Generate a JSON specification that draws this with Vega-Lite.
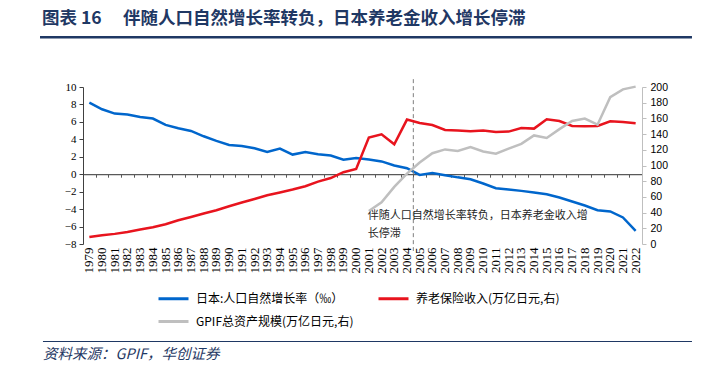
{
  "$schema": "https://vega.github.io/schema/vega-lite/v6.json",
  "width": 559,
  "height": 157,
  "autosize": {"type": "none"},
  "padding": {"left": 83, "top": 87, "right": 68, "bottom": 124},
  "background": "white",
  "config": {"view": {"stroke": null}, "font": "Noto Sans CJK SC"},
  "datasets": {
    "main": [
      {"year": "1979", "series": "日本:人口自然增长率（‰）", "value": 8.2},
      {"year": "1980", "series": "日本:人口自然增长率（‰）", "value": 7.45},
      {"year": "1981", "series": "日本:人口自然增长率（‰）", "value": 6.95},
      {"year": "1982", "series": "日本:人口自然增长率（‰）", "value": 6.84},
      {"year": "1983", "series": "日本:人口自然增长率（‰）", "value": 6.57},
      {"year": "1984", "series": "日本:人口自然增长率（‰）", "value": 6.38},
      {"year": "1985", "series": "日本:人口自然增长率（‰）", "value": 5.65},
      {"year": "1986", "series": "日本:人口自然增长率（‰）", "value": 5.27},
      {"year": "1987", "series": "日本:人口自然增长率（‰）", "value": 4.96},
      {"year": "1988", "series": "日本:人口自然增长率（‰）", "value": 4.35},
      {"year": "1989", "series": "日本:人口自然增长率（‰）", "value": 3.82},
      {"year": "1990", "series": "日本:人口自然增长率（‰）", "value": 3.36},
      {"year": "1991", "series": "日本:人口自然增长率（‰）", "value": 3.24},
      {"year": "1992", "series": "日本:人口自然增长率（‰）", "value": 2.98},
      {"year": "1993", "series": "日本:人口自然增长率（‰）", "value": 2.56},
      {"year": "1994", "series": "日本:人口自然增长率（‰）", "value": 2.94},
      {"year": "1995", "series": "日本:人口自然增长率（‰）", "value": 2.25},
      {"year": "1996", "series": "日本:人口自然增长率（‰）", "value": 2.54},
      {"year": "1997", "series": "日本:人口自然增长率（‰）", "value": 2.29},
      {"year": "1998", "series": "日本:人口自然增长率（‰）", "value": 2.14},
      {"year": "1999", "series": "日本:人口自然增长率（‰）", "value": 1.66},
      {"year": "2000", "series": "日本:人口自然增长率（‰）", "value": 1.87},
      {"year": "2001", "series": "日本:人口自然增长率（‰）", "value": 1.68},
      {"year": "2002", "series": "日本:人口自然增长率（‰）", "value": 1.47},
      {"year": "2003", "series": "日本:人口自然增长率（‰）", "value": 1.0},
      {"year": "2004", "series": "日本:人口自然增长率（‰）", "value": 0.69},
      {"year": "2005", "series": "日本:人口自然增长率（‰）", "value": -0.08},
      {"year": "2006", "series": "日本:人口自然增长率（‰）", "value": 0.15},
      {"year": "2007", "series": "日本:人口自然增长率（‰）", "value": -0.11},
      {"year": "2008", "series": "日本:人口自然增长率（‰）", "value": -0.36},
      {"year": "2009", "series": "日本:人口自然增长率（‰）", "value": -0.57},
      {"year": "2010", "series": "日本:人口自然增长率（‰）", "value": -1.07},
      {"year": "2011", "series": "日本:人口自然增长率（‰）", "value": -1.6},
      {"year": "2012", "series": "日本:人口自然增长率（‰）", "value": -1.75},
      {"year": "2013", "series": "日本:人口自然增长率（‰）", "value": -1.91},
      {"year": "2014", "series": "日本:人口自然增长率（‰）", "value": -2.1},
      {"year": "2015", "series": "日本:人口自然增长率（‰）", "value": -2.29},
      {"year": "2016", "series": "日本:人口自然增长率（‰）", "value": -2.67},
      {"year": "2017", "series": "日本:人口自然增长率（‰）", "value": -3.13},
      {"year": "2018", "series": "日本:人口自然增长率（‰）", "value": -3.59},
      {"year": "2019", "series": "日本:人口自然增长率（‰）", "value": -4.12},
      {"year": "2020", "series": "日本:人口自然增长率（‰）", "value": -4.27},
      {"year": "2021", "series": "日本:人口自然增长率（‰）", "value": -4.96},
      {"year": "2022", "series": "日本:人口自然增长率（‰）", "value": -6.49},
      {"year": "1979", "series": "养老保险收入(万亿日元,右)", "value": 9.0},
      {"year": "1980", "series": "养老保险收入(万亿日元,右)", "value": 11.2},
      {"year": "1981", "series": "养老保险收入(万亿日元,右)", "value": 12.9},
      {"year": "1982", "series": "养老保险收入(万亿日元,右)", "value": 15.4},
      {"year": "1983", "series": "养老保险收入(万亿日元,右)", "value": 18.4},
      {"year": "1984", "series": "养老保险收入(万亿日元,右)", "value": 21.4},
      {"year": "1985", "series": "养老保险收入(万亿日元,右)", "value": 25.2},
      {"year": "1986", "series": "养老保险收入(万亿日元,右)", "value": 30.3},
      {"year": "1987", "series": "养老保险收入(万亿日元,右)", "value": 34.5},
      {"year": "1988", "series": "养老保险收入(万亿日元,右)", "value": 38.8},
      {"year": "1989", "series": "养老保险收入(万亿日元,右)", "value": 43.0},
      {"year": "1990", "series": "养老保险收入(万亿日元,右)", "value": 48.1},
      {"year": "1991", "series": "养老保险收入(万亿日元,右)", "value": 52.8},
      {"year": "1992", "series": "养老保险收入(万亿日元,右)", "value": 57.4},
      {"year": "1993", "series": "养老保险收入(万亿日元,右)", "value": 62.1},
      {"year": "1994", "series": "养老保险收入(万亿日元,右)", "value": 65.6},
      {"year": "1995", "series": "养老保险收入(万亿日元,右)", "value": 69.4},
      {"year": "1996", "series": "养老保险收入(万亿日元,右)", "value": 73.6},
      {"year": "1997", "series": "养老保险收入(万亿日元,右)", "value": 79.5},
      {"year": "1998", "series": "养老保险收入(万亿日元,右)", "value": 84.0},
      {"year": "1999", "series": "养老保险收入(万亿日元,右)", "value": 91.5},
      {"year": "2000", "series": "养老保险收入(万亿日元,右)", "value": 95.5},
      {"year": "2001", "series": "养老保险收入(万亿日元,右)", "value": 135.6},
      {"year": "2002", "series": "养老保险收入(万亿日元,右)", "value": 139.8},
      {"year": "2003", "series": "养老保险收入(万亿日元,右)", "value": 127.0},
      {"year": "2004", "series": "养老保险收入(万亿日元,右)", "value": 158.5},
      {"year": "2005", "series": "养老保险收入(万亿日元,右)", "value": 154.2},
      {"year": "2006", "series": "养老保险收入(万亿日元,右)", "value": 151.6},
      {"year": "2007", "series": "养老保险收入(万亿日元,右)", "value": 145.3},
      {"year": "2008", "series": "养老保险收入(万亿日元,右)", "value": 144.5},
      {"year": "2009", "series": "养老保险收入(万亿日元,右)", "value": 143.6},
      {"year": "2010", "series": "养老保险收入(万亿日元,右)", "value": 144.5},
      {"year": "2011", "series": "养老保险收入(万亿日元,右)", "value": 142.7},
      {"year": "2012", "series": "养老保险收入(万亿日元,右)", "value": 143.2},
      {"year": "2013", "series": "养老保险收入(万亿日元,右)", "value": 147.8},
      {"year": "2014", "series": "养老保险收入(万亿日元,右)", "value": 147.0},
      {"year": "2015", "series": "养老保险收入(万亿日元,右)", "value": 158.9},
      {"year": "2016", "series": "养老保险收入(万亿日元,右)", "value": 156.7},
      {"year": "2017", "series": "养老保险收入(万亿日元,右)", "value": 150.4},
      {"year": "2018", "series": "养老保险收入(万亿日元,右)", "value": 150.0},
      {"year": "2019", "series": "养老保险收入(万亿日元,右)", "value": 150.4},
      {"year": "2020", "series": "养老保险收入(万亿日元,右)", "value": 156.3},
      {"year": "2021", "series": "养老保险收入(万亿日元,右)", "value": 155.4},
      {"year": "2022", "series": "养老保险收入(万亿日元,右)", "value": 153.8},
      {"year": "2001", "series": "GPIF总资产规模(万亿日元,右)", "value": 42.0},
      {"year": "2002", "series": "GPIF总资产规模(万亿日元,右)", "value": 53.0},
      {"year": "2003", "series": "GPIF总资产规模(万亿日元,右)", "value": 72.7},
      {"year": "2004", "series": "GPIF总资产规模(万亿日元,右)", "value": 89.7},
      {"year": "2005", "series": "GPIF总资产规模(万亿日元,右)", "value": 103.8},
      {"year": "2006", "series": "GPIF总资产规模(万亿日元,右)", "value": 115.6},
      {"year": "2007", "series": "GPIF总资产规模(万亿日元,右)", "value": 120.5},
      {"year": "2008", "series": "GPIF总资产规模(万亿日元,右)", "value": 118.5},
      {"year": "2009", "series": "GPIF总资产规模(万亿日元,右)", "value": 123.4},
      {"year": "2010", "series": "GPIF总资产规模(万亿日元,右)", "value": 117.8},
      {"year": "2011", "series": "GPIF总资产规模(万亿日元,右)", "value": 115.0},
      {"year": "2012", "series": "GPIF总资产规模(万亿日元,右)", "value": 121.5},
      {"year": "2013", "series": "GPIF总资产规模(万亿日元,右)", "value": 127.5},
      {"year": "2014", "series": "GPIF总资产规模(万亿日元,右)", "value": 138.3},
      {"year": "2015", "series": "GPIF总资产规模(万亿日元,右)", "value": 135.0},
      {"year": "2016", "series": "GPIF总资产规模(万亿日元,右)", "value": 146.3},
      {"year": "2017", "series": "GPIF总资产规模(万亿日元,右)", "value": 156.7},
      {"year": "2018", "series": "GPIF总资产规模(万亿日元,右)", "value": 159.8},
      {"year": "2019", "series": "GPIF总资产规模(万亿日元,右)", "value": 152.0},
      {"year": "2020", "series": "GPIF总资产规模(万亿日元,右)", "value": 187.0},
      {"year": "2021", "series": "GPIF总资产规模(万亿日元,右)", "value": 197.0},
      {"year": "2022", "series": "GPIF总资产规模(万亿日元,右)", "value": 200.5}
    ]
  },
  "layer": [
    {
      "layer": [
        {
          "layer": [
            {
              "data": {"name": "main"},
              "transform": [{"filter": "datum.series === '日本:人口自然增长率（‰）'"}],
              "mark": {"type": "line", "strokeWidth": 2.5, "clip": false},
              "encoding": {
                "x": {
                  "field": "year", "type": "ordinal",
                  "scale": {"type": "band", "paddingInner": 0, "paddingOuter": 0},
                  "axis": {"orient": "bottom", "title": null, "domain": false, "ticks": false, "labelAngle": 270, "labelFont": "Liberation Serif", "labelFontSize": 13, "labelColor": "#000000", "labelPadding": 3, "labelOverlap": false}
                },
                "y": {
                  "field": "value", "type": "quantitative",
                  "scale": {"domain": [-8, 10], "nice": false, "zero": false},
                  "axis": {"orient": "left", "title": null, "grid": false, "values": [-8, -6, -4, -2, 0, 2, 4, 6, 8, 10], "labelOverlap": false, "domainColor": "#404040", "tickColor": "#404040", "tickSize": 4, "labelFont": "Liberation Serif", "labelFontSize": 11, "labelColor": "#000000", "labelPadding": 3}
                },
                "color": {
                  "field": "series", "type": "nominal",
                  "scale": {"domain": ["日本:人口自然增长率（‰）", "养老保险收入(万亿日元,右)", "GPIF总资产规模(万亿日元,右)"], "range": ["#0066CC", "#E8141E", "#BFBFBF"]},
                  "legend": {"title": null, "orient": "none", "direction": "horizontal", "legendX": 74, "legendY": 195, "columns": 2, "symbolType": "stroke", "symbolSize": 900, "symbolStrokeWidth": 3, "labelFont": "Noto Sans CJK SC", "labelFontSize": 12, "labelColor": "#000000", "columnPadding": 18, "rowPadding": -3, "labelOffset": 6, "padding": 0}
                }
              }
            },
            {
              "data": {"values": [{"mark": "2005"}]},
              "mark": {"type": "rule", "strokeDash": [4, 3], "color": "#7F7F7F", "strokeWidth": 1, "clip": false},
              "encoding": {
                "x": {"field": "mark", "type": "ordinal", "bandPosition": 0,
                  "axis": {"orient": "bottom", "title": null, "domain": false, "ticks": false, "labelAngle": 270, "labelFont": "Liberation Serif", "labelFontSize": 13, "labelColor": "#000000", "labelPadding": 3, "labelOverlap": false}},
                "y": {"datum": 10.9, "type": "quantitative",
                  "axis": {"orient": "left", "title": null, "grid": false, "values": [-8, -6, -4, -2, 0, 2, 4, 6, 8, 10], "labelOverlap": false, "domainColor": "#404040", "tickColor": "#404040", "tickSize": 4, "labelFont": "Liberation Serif", "labelFontSize": 11, "labelColor": "#000000", "labelPadding": 3}},
                "y2": {"datum": -8.8}
              }
            },
            {
              "data": {"values": [{"at": "2001", "note": ["伴随人口自然增长率转负，日本养老金收入增", "长停滞"]}]},
              "mark": {"type": "text", "align": "left", "baseline": "top", "dx": -1, "font": "Noto Sans CJK SC", "fontSize": 11, "lineHeight": 18, "color": "#262626", "clip": false},
              "encoding": {
                "x": {"field": "at", "type": "ordinal", "bandPosition": 0.5,
                  "axis": {"orient": "bottom", "title": null, "domain": false, "ticks": false, "labelAngle": 270, "labelFont": "Liberation Serif", "labelFontSize": 13, "labelColor": "#000000", "labelPadding": 3, "labelOverlap": false}},
                "y": {"datum": -4.15, "type": "quantitative",
                  "axis": {"orient": "left", "title": null, "grid": false, "values": [-8, -6, -4, -2, 0, 2, 4, 6, 8, 10], "labelOverlap": false, "domainColor": "#404040", "tickColor": "#404040", "tickSize": 4, "labelFont": "Liberation Serif", "labelFontSize": 11, "labelColor": "#000000", "labelPadding": 3}},
                "text": {"field": "note"}
              }
            }
          ]
        },
        {
          "data": {"name": "main"},
          "transform": [{"filter": "datum.series !== '日本:人口自然增长率（‰）'"}],
          "mark": {"type": "line", "strokeWidth": 2.5, "clip": false},
          "encoding": {
            "x": {
              "field": "year", "type": "ordinal",
              "scale": {"type": "band", "paddingInner": 0, "paddingOuter": 0},
              "axis": {"orient": "bottom", "title": null, "labels": false, "offset": -69.8, "domainColor": "#595959", "tickColor": "#595959", "tickSize": 3, "tickBand": "extent", "domainWidth": 1.2}
            },
            "y": {
              "field": "value", "type": "quantitative",
              "scale": {"domain": [0, 200], "nice": false},
              "axis": {"orient": "right", "title": null, "grid": false, "values": [0, 20, 40, 60, 80, 100, 120, 140, 160, 180, 200], "labelOverlap": false, "domainColor": "#BFBFBF", "tickColor": "#BFBFBF", "tickSize": 4, "labelFont": "Liberation Sans", "labelFontSize": 10.5, "labelColor": "#000000", "labelPadding": 4}
            },
            "color": {
              "field": "series", "type": "nominal",
              "scale": {"domain": ["日本:人口自然增长率（‰）", "养老保险收入(万亿日元,右)", "GPIF总资产规模(万亿日元,右)"], "range": ["#0066CC", "#E8141E", "#BFBFBF"]},
              "legend": {"title": null, "orient": "none", "direction": "horizontal", "legendX": 74, "legendY": 195, "columns": 2, "symbolType": "stroke", "symbolSize": 900, "symbolStrokeWidth": 3, "labelFont": "Noto Sans CJK SC", "labelFontSize": 12, "labelColor": "#000000", "columnPadding": 18, "rowPadding": -3, "labelOffset": 6, "padding": 0}
            }
          }
        }
      ],
      "resolve": {"scale": {"y": "independent"}, "axis": {"x": "independent"}}
    },
    {
      "data": {"values": [{}]},
      "layer": [
        {
          "mark": {"type": "rule", "color": "#1F3864", "strokeWidth": 2.5, "clip": false},
          "encoding": {
            "x": {"datum": -0.0769, "type": "quantitative", "scale": {"domain": [0, 1], "nice": false, "zero": false}, "axis": null},
            "x2": {"datum": 1.0894},
            "y": {"datum": 15.7, "type": "quantitative", "scale": {"domain": [-8, 10], "nice": false, "zero": false}, "axis": null}
          }
        },
        {
          "mark": {"type": "rule", "color": "#1F3864", "strokeWidth": 1.2, "clip": false},
          "encoding": {
            "x": {"datum": -0.0716, "type": "quantitative"},
            "x2": {"datum": 1.0894},
            "y": {"datum": -19.18, "type": "quantitative"}
          }
        },
        {
          "mark": {"type": "text", "align": "left", "baseline": "middle", "font": "Noto Sans CJK SC", "fontSize": 17.5, "fontWeight": "bold", "color": "#1F3864", "clip": false},
          "encoding": {
            "x": {"datum": -0.0733, "type": "quantitative"},
            "y": {"datum": 17.8, "type": "quantitative"},
            "text": {"value": "图表 16\u3000 伴随人口自然增长率转负，日本养老金收入增长停滞"}
          }
        },
        {
          "mark": {"type": "text", "align": "left", "baseline": "middle", "font": "Noto Sans CJK SC", "fontSize": 14.5, "fontStyle": "italic", "color": "#1F3864", "clip": false},
          "encoding": {
            "x": {"datum": -0.0716, "type": "quantitative"},
            "y": {"datum": -20.73, "type": "quantitative"},
            "text": {"value": "资料来源：GPIF，华创证券"}
          }
        }
      ]
    }
  ],
  "resolve": {"scale": {"x": "independent", "y": "independent"}}
}
